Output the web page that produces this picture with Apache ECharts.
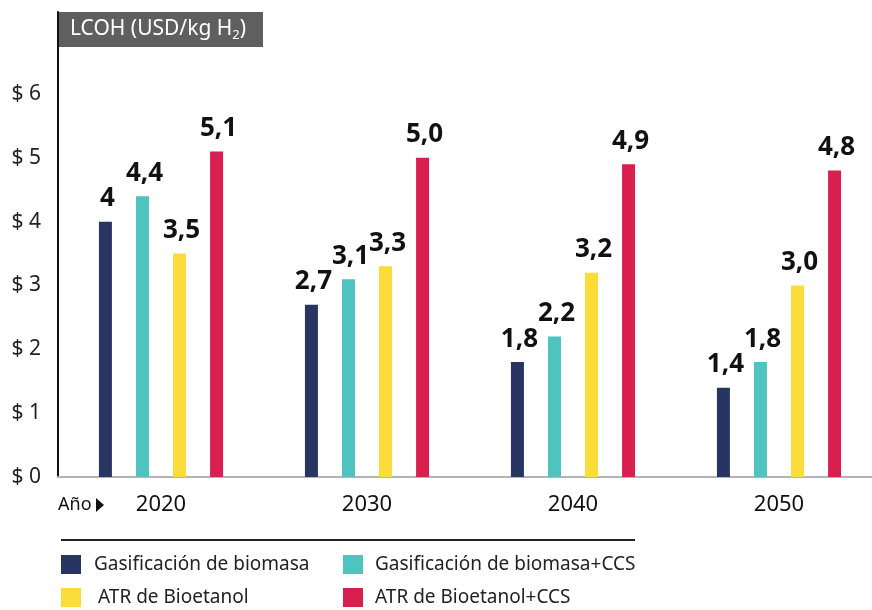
<!DOCTYPE html>
<html>
<head>
<meta charset="utf-8">
<script src="https://cdn.jsdelivr.net/npm/echarts@6.0.0/dist/echarts.min.js"></script>
<style>
  html, body { margin: 0; padding: 0; background: #fff; }
  #chart { width: 872px; height: 610px; }
</style>
</head>
<body>
<div id="chart"></div>
<script>
// costo nivelado del hidrógeno por ruta y año
const years = ['2020', '2030', '2040', '2050'];
const seriesNames = [
  'Gasificación de biomasa',
  'Gasificación de biomasa+CCS',
  'ATR de Bioetanol',
  'ATR de Bioetanol+CCS'
];
const gasBiomasa = [4.0, 2.7, 1.8, 1.4];
const gasBiomasaCCS = [4.4, 3.1, 2.2, 1.8];
const atrBioetanol = [3.5, 3.3, 3.2, 3.0];
const atrBioetanolCCS = [5.1, 5.0, 4.9, 4.8];
// etiquetas tal como aparecen en la figura
const gasBiomasaLbl = ['4', '2,7', '1,8', '1,4'];
const gasBiomasaCCSLbl = ['4,4', '3,1', '2,2', '1,8'];
const atrBioetanolLbl = ['3,5', '3,3', '3,2', '3,0'];
const atrBioetanolCCSLbl = ['5,1', '5,0', '4,9', '4,8'];
const yMaxLabel = 6;

const colors = ['#283562', '#4fc3bf', '#fcdc3b', '#d81f50'];
const FONT = '"Noto Sans", "DejaVu Sans", sans-serif';

const chart = echarts.init(document.getElementById('chart'));

function makeSeries(idx, values, labels) {
  return {
    name: seriesNames[idx],
    type: 'bar',
    data: values,
    barWidth: 13,
    barGap: '185%',
    itemStyle: { color: colors[idx] },
    label: {
      show: true,
      position: 'top',
      distance: 10,
      offset: [2, 0],
      fontSize: 26,
      fontWeight: 'bold',
      fontFamily: FONT,
      color: '#111',
      formatter: (p) => labels[p.dataIndex]
    }
  };
}

function legendItem(idx, left, top, gap) {
  return {
    data: [seriesNames[idx]],
    left: left,
    top: top,
    padding: 0,
    icon: 'rect',
    itemWidth: 20,
    itemHeight: 19,
    selectedMode: false,
    textStyle: {
      fontSize: 19,
      fontFamily: FONT,
      color: '#222',
      padding: [4, 0, 0, gap]
    }
  };
}

const option = {
  animation: false,
  textStyle: { fontFamily: FONT },
  // la banda de 2050 sobrepasa el borde derecho, como en la figura
  grid: { left: 58, width: 824, top: 12, bottom: 133, outerBoundsMode: 'none' },
  legend: [
    legendItem(0, 61, 555, 8),
    legendItem(1, 343, 555, 7),
    legendItem(2, 61, 588, 12),
    legendItem(3, 343, 588, 7)
  ],
  xAxis: {
    type: 'category',
    data: years,
    axisLine: { lineStyle: { color: '#b4b4b4', width: 2 } },
    axisTick: { show: false },
    axisLabel: { fontSize: 22, color: '#111', margin: 17, fontFamily: FONT }
  },
  yAxis: {
    type: 'value',
    min: 0,
    max: 7.285,
    interval: 1,
    axisLine: { show: true, lineStyle: { color: '#111', width: 2 } },
    axisTick: { show: false },
    splitLine: { show: false },
    axisLabel: {
      fontSize: 21,
      color: '#222',
      margin: 17,
      fontFamily: FONT,
      formatter: (v) => (v <= yMaxLabel + 0.001 ? '$ ' + v : '')
    }
  },
  graphic: [
    {
      type: 'rect',
      shape: { x: 58, y: 12, width: 205, height: 35 },
      style: { fill: '#5f5f5f' }
    },
    {
      type: 'text',
      x: 70,
      y: 29,
      style: {
        text: 'LCOH (USD/kg H{s|2})',
        fill: '#fff',
        fontSize: 21,
        fontFamily: FONT,
        verticalAlign: 'middle',
        rich: {
          s: { fontSize: 13, fill: '#fff', fontFamily: FONT, padding: [12, 0, 0, 0] }
        }
      }
    },
    {
      type: 'text',
      x: 58,
      y: 505,
      style: { text: 'Año', fill: '#111', fontSize: 18, fontFamily: FONT, verticalAlign: 'middle' }
    },
    {
      type: 'polygon',
      shape: { points: [[96, 498], [104, 505], [96, 512]] },
      style: { fill: '#111' }
    },
    {
      type: 'line',
      shape: { x1: 61, y1: 540, x2: 635, y2: 540 },
      style: { stroke: '#222', lineWidth: 2 }
    }
  ],
  series: [
    makeSeries(0, gasBiomasa, gasBiomasaLbl),
    makeSeries(1, gasBiomasaCCS, gasBiomasaCCSLbl),
    makeSeries(2, atrBioetanol, atrBioetanolLbl),
    makeSeries(3, atrBioetanolCCS, atrBioetanolCCSLbl)
  ]
};

chart.setOption(option);
</script>
</body>
</html>
